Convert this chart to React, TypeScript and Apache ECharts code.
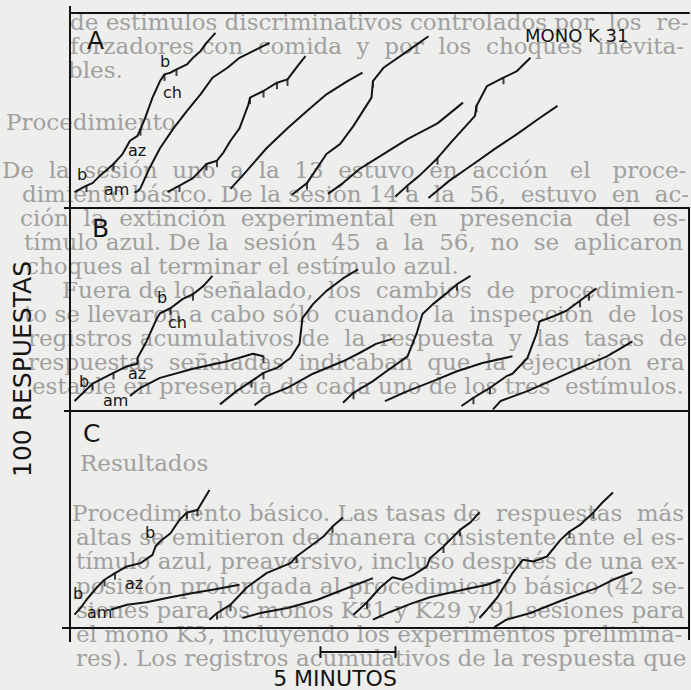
import React, { useEffect, useRef } from "react";
import * as echarts from "echarts";

// ---- scale: minutes on x, cumulative responses on y ----
const minutesMax = [41.27];
const responsesMax = [235, 245, 261]; // panels A, B, C

// ---- Panel A records [minutes, responses] ----
const recA1 = [[0.3,19],[1.1,27],[1.5,30],[2.0,39],[2.9,53],[3.5,65],[4.0,81],[4.5,87],[4.7,95],[5.0,108],[5.5,133],[6.0,153],[6.3,161],[6.7,163],[7.1,167],[7.8,173],[8.2,181],[8.7,189],[9.1,199],[9.7,211]];
const recA2 = [[4.3,19],[4.5,20],[4.7,24],[5.3,48],[6.0,72],[6.9,96],[7.8,117],[8.7,137],[9.5,157],[10.5,169],[11.3,181],[12.2,189],[13.3,199]];
const recA3 = [[6.5,19],[7.3,27],[8.2,36],[9.1,53],[9.8,57],[10.2,66],[10.7,81],[11.3,96],[11.9,125],[12.0,133],[12.9,141],[13.8,151],[14.5,155],[15.3,174],[15.7,183]];
const recA4 = [[10.7,23],[11.8,45],[13.1,72],[14.5,96],[15.8,117],[17.1,137],[18.5,153],[19.5,163]];
const recA5 = [[14.8,16],[15.8,30],[17.1,65],[18.0,77],[18.9,99],[20.1,133],[20.2,153],[20.9,169],[22.5,189],[23.9,207]];
const recA6 = [[17.2,17],[18.2,30],[19.3,47],[20.2,57],[22.5,83],[24.5,102],[26.2,127]];
const recA7 = [[21.7,14],[22.5,27],[23.3,39],[24.5,60],[25.3,77],[27.0,111],[27.1,123],[27.8,147],[28.9,157],[29.8,165],[30.7,181]];
const recA8 = [[23.9,12],[25.3,33],[26.9,53],[28.3,71],[29.8,89],[31.2,107],[32.5,123]];
const pipsA = [[1.1,27],[2.9,53],[4.7,95],[6.3,161],[7.1,167],[7.3,27],[9.1,53],[9.8,57],[12.0,133],[12.9,141],[13.8,151],[14.5,155],[15.8,30],[20.2,153],[22.5,27],[24.5,60],[27.1,123],[28.9,157]];

// ---- Panel B records ----
const recB1 = [[0.3,12],[1.5,33],[2.9,46],[3.8,54],[4.5,57],[4.5,64],[5.1,84],[5.8,112],[6.0,118],[6.7,124],[7.5,135],[8.2,141],[8.9,151],[9.5,163]];
const recB2 = [[4.0,18],[4.7,28],[6.0,40],[8.2,51],[10.5,60],[12.2,69],[12.9,66]];
const recB3 = [[10.0,8],[11.1,24],[12.1,36],[12.9,46],[13.8,52],[14.7,64],[15.3,81],[15.5,112],[16.2,129],[17.1,145],[18.2,160],[19.2,171]];
const recB4 = [[12.3,7],[13.1,18],[14.5,28],[16.2,45],[18.2,60],[19.3,70],[20.4,81],[21.5,87]];
const recB5 = [[18.2,10],[18.9,22],[20.2,36],[21.1,48],[22.5,66],[23.1,93],[23.5,117],[24.2,129],[25.3,145],[25.8,153],[26.7,163]];
const recB6 = [[21.0,12],[22.5,24],[24.2,36],[25.8,48],[27.5,58],[29.5,66]];
const recB7 = [[26.1,6],[26.9,16],[28.0,28],[29.1,42],[29.5,45],[30.5,64],[31.1,93],[31.3,108],[32.2,114],[33.1,121],[34.0,133],[35.1,148]];
const recB8 = [[28.2,2],[28.7,12],[30.5,24],[32.5,40],[34.0,52],[35.8,66],[37.5,84]];
const pipsB = [[1.5,33],[2.9,46],[6.7,124],[8.2,141],[12.9,66],[12.1,36],[12.9,46],[18.9,22],[25.8,153],[26.9,16],[28.0,28],[34.0,133],[34.6,141]];

// ---- Panel C records ----
const recC1 = [[0.3,16],[0.7,24],[1.1,34],[1.8,49],[2.3,58],[3.0,66],[3.8,74],[4.7,78],[5.5,88],[5.7,98],[6.0,104],[6.7,114],[7.3,130],[7.8,139],[8.5,142],[8.8,151],[9.3,166]];
const recC2 = [[2.7,22],[3.8,28],[5.1,31],[6.7,37],[8.2,42],[9.5,46],[11.3,52]];
const recC3 = [[9.3,10],[9.8,18],[10.7,28],[11.8,49],[13.1,66],[14.7,78],[15.1,86],[16.0,98],[16.9,110],[17.5,122],[18.2,133]];
const recC4 = [[11.5,12],[12.7,18],[14.5,24],[16.5,34],[18.2,46],[20.2,60]];
const recC5 = [[18.9,16],[19.8,31],[20.7,49],[21.5,61],[22.2,58],[22.9,64],[23.8,74],[24.0,84],[24.9,98],[26.0,118],[26.7,127],[27.3,139]];
const recC6 = [[20.2,10],[21.3,19],[22.7,29],[24.0,37],[26.2,46],[27.8,52],[28.7,58]];
const recC7 = [[27.3,12],[27.8,22],[28.5,37],[29.5,66],[30.2,82],[30.9,80],[31.8,86],[32.7,106],[33.3,116],[34.0,124],[34.9,139],[35.5,151],[36.2,163]];
const recC8 = [[28.3,1],[29.1,10],[30.7,18],[32.9,34],[35.1,48],[36.2,58],[37.5,67]];
const pipsC = [[2.3,58],[3.0,66],[7.8,139],[8.5,142],[9.8,18],[10.7,28],[15.1,86],[17.5,122],[19.8,31],[24.9,98],[26.0,118],[33.3,116],[34.9,139]];

// ---- calibration bars ----
const barMinutes = [16.7, 21.7];      // 5 minutos
const barMinutesLevel = [-29];        // below panel C
const barResponses = [43, -57];       // 100 respuestas (panel B scale)
const barResponsesAt = [-1.2];        // minutes, left of panel

// ---- page text showing through the figure ----
const pageText = [
  "de estímulos discriminativos controlados por los re-",
  "forzadores con comida y por los choques inevita-",
  "bles.",
  "Procedimiento",
  "De la sesión uno a la 13 estuvo en acción el proce-",
  "dimiento básico. De la sesión 14 a la 56, estuvo en ac-",
  "ción la extinción experimental en presencia del es-",
  "tímulo azul. De la sesión 45 a la 56, no se aplicaron",
  "choques al terminar el estímulo azul.",
  "Fuera de lo señalado, los cambios de procedimien-",
  "to se llevaron a cabo sólo cuando la inspección de los",
  "registros acumulativos de la respuesta y las tasas de",
  "respuestas señaladas indicaban que la ejecución era",
  "estable en presencia de cada uno de los tres estímulos.",
  "Resultados",
  "Procedimiento básico. Las tasas de respuestas más",
  "altas se emitieron de manera consistente ante el es-",
  "tímulo azul, preaversivo, incluso después de una ex-",
  "posición prolongada al procedimiento básico (42 se-",
  "siones para los monos K31 y K29 y 91 sesiones para",
  "el mono K3, incluyendo los experimentos prelimina-",
  "res). Los registros acumulativos de la respuesta que",
];
// [x, y, justified]
const pageTextPos: [number, number, boolean][] = [
  [70, 22, true], [70, 46, true], [68, 70, false], [6, 122, false], [2, 170, true], [22, 194, true],
  [20, 218, true], [24, 242, true], [26, 266, false], [62, 290, true], [24, 314, true], [28, 338, true],
  [28, 362, true], [32, 386, true], [80, 463, false], [72, 513, true], [76, 537, true],
  [76, 561, true], [76, 586, true], [76, 610, true], [76, 634, true], [76, 658, true],
];

const records = [
  [recA1, recA2, recA3, recA4, recA5, recA6, recA7, recA8],
  [recB1, recB2, recB3, recB4, recB5, recB6, recB7, recB8],
  [recC1, recC2, recC3, recC4, recC5, recC6, recC7, recC8],
];
const pips = [pipsA, pipsB, pipsC];

const INK = "#141414";
const SANS = "'DejaVu Sans', 'Liberation Sans', sans-serif";
const SERIF_FONT = "23px 'DejaVu Serif', serif";

function justify(line: string, x0: number, right: number, ctx: CanvasRenderingContext2D) {
  const words = line.split(" ");
  if (words.length < 2) return line;
  const base = ctx.measureText(words.join("\u00A0")).width;
  const sp = ctx.measureText("\u00A0").width || 7;
  let extra = Math.max(0, Math.round((right - x0 - base) / sp));
  const gaps = words.length - 1;
  const out: string[] = [];
  words.forEach((w, i) => {
    out.push(w);
    if (i < gaps) {
      const add = Math.floor(extra / (gaps - i));
      extra -= add;
      out.push("\u00A0".repeat(1 + add));
    }
  });
  return out.join("");
}

export default function App() {
  const ref = useRef<HTMLDivElement>(null);
  useEffect(() => {
    document.body.style.margin = "0";
    const chart = echarts.init(ref.current!, null, { renderer: "svg" });
    const gridDefs = [
      { left: 70, top: 13, width: 619, height: 195 },
      { left: 70, top: 208, width: 619, height: 203 },
      { left: 70, top: 411, width: 619, height: 217 },
    ];
    const axisLine = { show: true, onZero: false, lineStyle: { color: INK, width: 2 } };
    const hidden = { axisTick: { show: false }, axisLabel: { show: false }, splitLine: { show: false } };
    const xAxis: any[] = gridDefs.map((_, i) => ({
      type: "value", gridIndex: i, min: 0, max: minutesMax[0], axisLine, ...hidden,
    }));
    xAxis.push({ type: "value", gridIndex: 0, position: "top", min: 0, max: minutesMax[0], axisLine, ...hidden });
    const yAxis: any[] = gridDefs.map((_, i) => ({
      type: "value", gridIndex: i, min: 0, max: responsesMax[i], axisLine, ...hidden,
    }));
    yAxis.push({ type: "value", gridIndex: 1, position: "right", min: 0, max: responsesMax[1], axisLine, ...hidden });
    yAxis.push({ type: "value", gridIndex: 2, position: "right", min: 0, max: responsesMax[2], axisLine, ...hidden });

    const series: any[] = [];
    records.forEach((panel, p) => {
      panel.forEach((rec) => {
        series.push({
          type: "line", xAxisIndex: p, yAxisIndex: p, data: rec, showSymbol: false, silent: true,
          lineStyle: { color: INK, width: 2 }, z: 5,
        });
      });
      series.push({
        type: "scatter", xAxisIndex: p, yAxisIndex: p, data: pips[p], silent: true,
        symbol: "rect", symbolSize: [2, 7], symbolOffset: [0, 3], itemStyle: { color: INK }, z: 5,
      });
    });
    const bar = (data: number[][], xi: number, yi: number) => ({
      type: "line", xAxisIndex: xi, yAxisIndex: yi, data, showSymbol: false, clip: false, silent: true,
      lineStyle: { color: INK, width: 2 }, z: 5,
    });
    const hy = barMinutesLevel[0];
    series.push(bar([[barMinutes[0], hy], [barMinutes[1], hy]], 2, 2));
    series.push(bar([[barMinutes[0], hy - 7], [barMinutes[0], hy + 7]], 2, 2));
    series.push(bar([[barMinutes[1], hy - 7], [barMinutes[1], hy + 7]], 2, 2));
    const vx = barResponsesAt[0];
    series.push(bar([[vx, barResponses[0]], [vx, barResponses[1]]], 1, 1));
    series.push(bar([[vx - 0.5, barResponses[0]], [vx + 0.5, barResponses[0]]], 1, 1));
    series.push(bar([[vx - 0.5, barResponses[1]], [vx + 0.5, barResponses[1]]], 1, 1));

    const txt = (text: string, x: number, y: number, size: number, extra: any = {}) => ({
      type: "text", x, y, z: 20, silent: true,
      style: { text, fill: INK, font: `${size}px ${SANS}`, textAlign: "left", textVerticalAlign: "middle", ...extra },
    });
    const frame = (x1: number, y1: number, x2: number, y2: number) => ({
      type: "line", z: 20, silent: true, shape: { x1, y1, x2, y2 }, style: { stroke: INK, lineWidth: 2 },
    });

    const ctx = document.createElement("canvas").getContext("2d")!;
    ctx.font = SERIF_FONT;
    const graphic: any[] = [];
    pageText.forEach((t, i) => {
      const [x0, y, just] = pageTextPos[i];
      graphic.push({
        type: "text", x: x0, y, z: 0, silent: true,
        style: { text: just ? justify(t, x0, 686, ctx) : t, fill: "#a0a09e", font: SERIF_FONT, textAlign: "left", textVerticalAlign: "middle" },
      });
    });
    graphic.push(
      frame(70, 6, 70, 14), frame(70, 627, 70, 642), frame(62, 628, 70, 628),
      frame(64, 208, 70, 208), frame(64, 411, 70, 411), frame(689, 627, 689, 640),
      txt("A", 87, 40, 25),
      txt("MONO K 31", 525, 35, 18),
      txt("b", 77, 174, 16), txt("am", 104, 189, 16), txt("az", 128, 150, 16), txt("ch", 163, 92, 16), txt("b", 160, 61, 16),
      txt("B", 92, 228, 25),
      txt("b", 79, 381, 16), txt("am", 103, 400, 16), txt("az", 128, 373, 16), txt("ch", 168, 322, 16), txt("b", 157, 297, 16),
      txt("C", 83, 433, 25),
      txt("b", 73, 593, 16), txt("am", 87, 612, 16), txt("az", 125, 583, 16), txt("b", 145, 532, 16),
      txt("5 MINUTOS", 335, 678, 22, { textAlign: "center" }),
      { type: "text", x: 22, y: 369, rotation: Math.PI / 2, z: 20, silent: true,
        style: { text: "100 RESPUESTAS", fill: INK, font: `25px ${SANS}`, textAlign: "center", textVerticalAlign: "middle" } },
    );

    chart.setOption({
      animation: false,
      backgroundColor: "#eeeeec",
      grid: gridDefs.map((g) => ({ ...g, containLabel: false })),
      xAxis, yAxis, series, graphic,
    });
    return () => chart.dispose();
  }, []);
  return <div ref={ref} style={{ position: "fixed", left: 0, top: 0, width: 691, height: 690 }} />;
}
